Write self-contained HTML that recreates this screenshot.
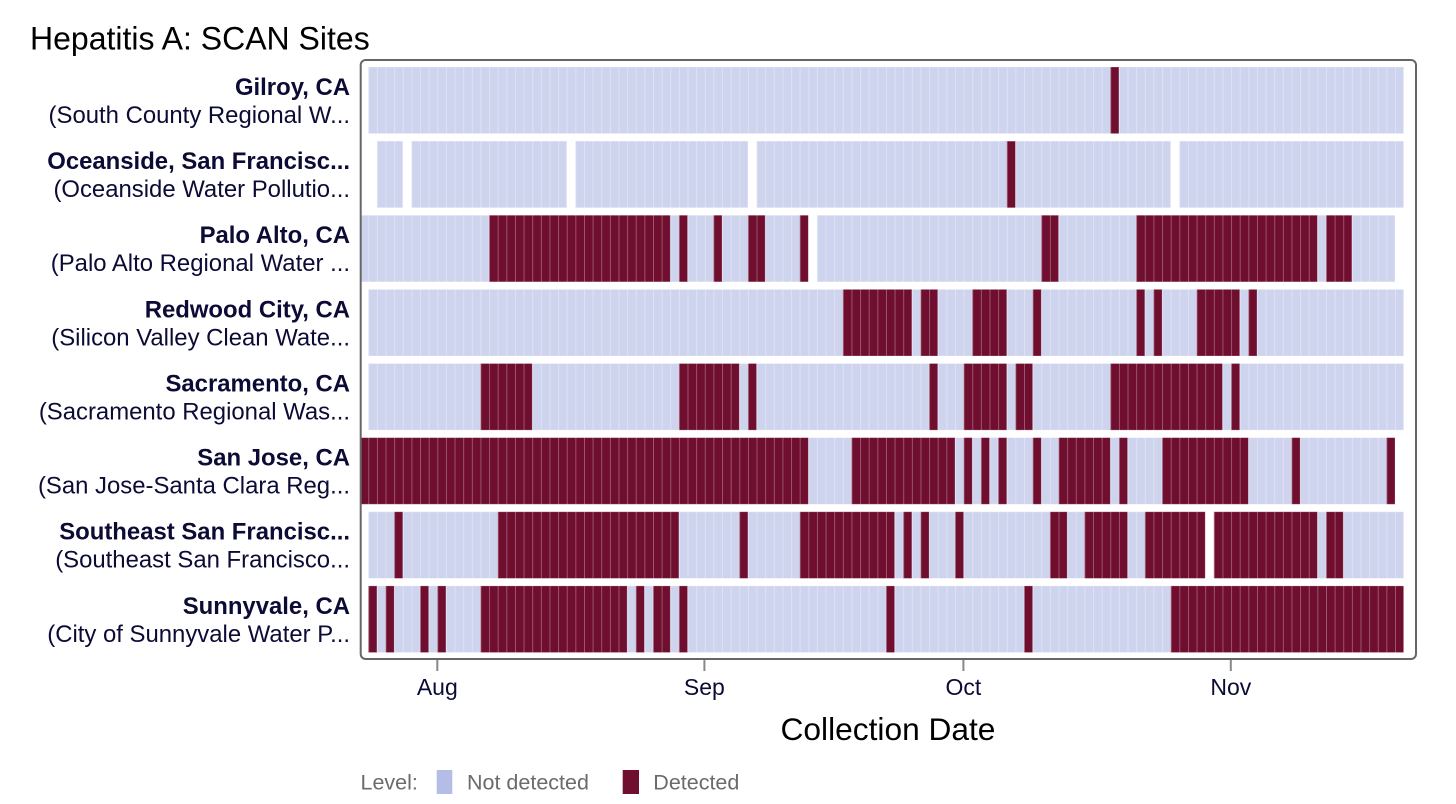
<!DOCTYPE html>
<html>
<head>
<meta charset="utf-8">
<style>
  html, body { margin: 0; padding: 0; background: #ffffff; }
  body { width: 1456px; height: 804px; overflow: hidden; }
  svg { display: block; }
  text { font-family: "Liberation Sans", Arial, Helvetica, sans-serif; }
</style>
</head>
<body>
<svg width="1456" height="804" viewBox="0 0 1456 804" xmlns="http://www.w3.org/2000/svg">
  <defs>
    <pattern id="sep" patternUnits="userSpaceOnUse" x="368.3" y="0" width="8.628" height="20">
      <rect x="0" y="0" width="0.9" height="20" fill="#ffffff" fill-opacity="0.32"/>
    </pattern>
  </defs>

  <!-- Title -->
  <text x="30" y="49.5" font-size="32" fill="#000000">Hepatitis A: SCAN Sites</text>

  <!-- Row labels -->
  <g font-size="23.9" fill="#0b0b35" text-anchor="end">
    <text x="350" y="95" font-weight="bold">Gilroy, CA</text>
    <text x="350" y="123">(South County Regional W...</text>
    <text x="350" y="169.1" font-weight="bold">Oceanside, San Francisc...</text>
    <text x="350" y="197.1">(Oceanside Water Pollutio...</text>
    <text x="350" y="243.2" font-weight="bold">Palo Alto, CA</text>
    <text x="350" y="271.2">(Palo Alto Regional Water ...</text>
    <text x="350" y="317.3" font-weight="bold">Redwood City, CA</text>
    <text x="350" y="345.3">(Silicon Valley Clean Wate...</text>
    <text x="350" y="391.4" font-weight="bold">Sacramento, CA</text>
    <text x="350" y="419.4">(Sacramento Regional Was...</text>
    <text x="350" y="465.6" font-weight="bold">San Jose, CA</text>
    <text x="350" y="493.6">(San Jose-Santa Clara Reg...</text>
    <text x="350" y="539.7" font-weight="bold">Southeast San Francisc...</text>
    <text x="350" y="567.7">(Southeast San Francisco...</text>
    <text x="350" y="613.8" font-weight="bold">Sunnyvale, CA</text>
    <text x="350" y="641.8">(City of Sunnyvale Water P...</text>
  </g>

  <!-- Cells: light backgrounds -->
  <g fill="#cfd4ee" stroke="#ffffff" stroke-opacity="0.3" stroke-width="0.8">
    <rect x="368.3" y="67" width="1035.36" height="66.6"/>
    <rect x="376.93" y="141.13" width="25.88" height="66.6"/>
    <rect x="411.44" y="141.13" width="155.3" height="66.6"/>
    <rect x="575.37" y="141.13" width="172.56" height="66.6"/>
    <rect x="756.56" y="141.13" width="414.14" height="66.6"/>
    <rect x="1179.33" y="141.13" width="224.33" height="66.6"/>
    <rect x="361" y="215.26" width="447.33" height="66.6"/>
    <rect x="816.96" y="215.26" width="578.07" height="66.6"/>
    <rect x="368.3" y="289.39" width="1035.36" height="66.6"/>
    <rect x="368.3" y="363.52" width="1035.36" height="66.6"/>
    <rect x="361" y="437.65" width="1034.03" height="66.6"/>
    <rect x="368.3" y="511.78" width="836.92" height="66.6"/>
    <rect x="1213.84" y="511.78" width="189.82" height="66.6"/>
    <rect x="368.3" y="585.91" width="1035.36" height="66.6"/>
  </g>

  <!-- Cells: detected -->
  <g fill="#6f0e2f" stroke="#ffffff" stroke-opacity="0.3" stroke-width="0.8">
    <rect x="1110.31" y="67" width="8.63" height="66.6"/>
    <rect x="1006.77" y="141.13" width="8.63" height="66.6"/>
    <rect x="489.09" y="215.26" width="181.19" height="66.6"/>
    <rect x="678.91" y="215.26" width="8.63" height="66.6"/>
    <rect x="713.42" y="215.26" width="8.63" height="66.6"/>
    <rect x="747.93" y="215.26" width="17.26" height="66.6"/>
    <rect x="799.70" y="215.26" width="8.63" height="66.6"/>
    <rect x="1041.28" y="215.26" width="17.26" height="66.6"/>
    <rect x="1136.19" y="215.26" width="181.19" height="66.6"/>
    <rect x="1326.01" y="215.26" width="25.88" height="66.6"/>
    <rect x="842.84" y="289.39" width="69.02" height="66.6"/>
    <rect x="920.49" y="289.39" width="17.26" height="66.6"/>
    <rect x="972.26" y="289.39" width="34.51" height="66.6"/>
    <rect x="1032.66" y="289.39" width="8.63" height="66.6"/>
    <rect x="1136.19" y="289.39" width="8.63" height="66.6"/>
    <rect x="1153.45" y="289.39" width="8.63" height="66.6"/>
    <rect x="1196.59" y="289.39" width="43.14" height="66.6"/>
    <rect x="1248.36" y="289.39" width="8.63" height="66.6"/>
    <rect x="480.46" y="363.52" width="51.77" height="66.6"/>
    <rect x="678.91" y="363.52" width="60.39" height="66.6"/>
    <rect x="747.93" y="363.52" width="8.63" height="66.6"/>
    <rect x="929.12" y="363.52" width="8.63" height="66.6"/>
    <rect x="963.63" y="363.52" width="43.14" height="66.6"/>
    <rect x="1015.40" y="363.52" width="17.26" height="66.6"/>
    <rect x="1110.31" y="363.52" width="112.16" height="66.6"/>
    <rect x="1231.10" y="363.52" width="8.63" height="66.6"/>
    <rect x="361" y="437.65" width="447.33" height="66.6"/>
    <rect x="851.47" y="437.65" width="103.53" height="66.6"/>
    <rect x="963.63" y="437.65" width="8.63" height="66.6"/>
    <rect x="980.89" y="437.65" width="8.63" height="66.6"/>
    <rect x="998.14" y="437.65" width="8.63" height="66.6"/>
    <rect x="1032.66" y="437.65" width="8.63" height="66.6"/>
    <rect x="1058.54" y="437.65" width="51.77" height="66.6"/>
    <rect x="1118.94" y="437.65" width="8.63" height="66.6"/>
    <rect x="1162.08" y="437.65" width="86.28" height="66.6"/>
    <rect x="1291.50" y="437.65" width="8.63" height="66.6"/>
    <rect x="1386.40" y="437.65" width="8.63" height="66.6"/>
    <rect x="394.18" y="511.78" width="8.63" height="66.6"/>
    <rect x="497.72" y="511.78" width="181.19" height="66.6"/>
    <rect x="739.30" y="511.78" width="8.63" height="66.6"/>
    <rect x="799.70" y="511.78" width="94.91" height="66.6"/>
    <rect x="903.24" y="511.78" width="8.63" height="66.6"/>
    <rect x="920.49" y="511.78" width="8.63" height="66.6"/>
    <rect x="955.00" y="511.78" width="8.63" height="66.6"/>
    <rect x="1049.91" y="511.78" width="17.26" height="66.6"/>
    <rect x="1084.42" y="511.78" width="43.14" height="66.6"/>
    <rect x="1144.82" y="511.78" width="60.40" height="66.6"/>
    <rect x="1213.84" y="511.78" width="103.54" height="66.6"/>
    <rect x="1326.01" y="511.78" width="17.25" height="66.6"/>
    <rect x="368.3" y="585.91" width="8.63" height="66.6"/>
    <rect x="385.56" y="585.91" width="8.63" height="66.6"/>
    <rect x="420.07" y="585.91" width="8.63" height="66.6"/>
    <rect x="437.32" y="585.91" width="8.63" height="66.6"/>
    <rect x="480.46" y="585.91" width="146.68" height="66.6"/>
    <rect x="635.77" y="585.91" width="8.63" height="66.6"/>
    <rect x="653.02" y="585.91" width="17.26" height="66.6"/>
    <rect x="678.91" y="585.91" width="8.63" height="66.6"/>
    <rect x="885.98" y="585.91" width="8.63" height="66.6"/>
    <rect x="1024.03" y="585.91" width="8.63" height="66.6"/>
    <rect x="1170.70" y="585.91" width="232.96" height="66.6"/>
  </g>

  <!-- Cell separators -->
  <rect x="361" y="66" width="1043" height="588" fill="url(#sep)"/>

  <!-- Plot border -->
  <rect x="360.7" y="60" width="1055.3" height="599" rx="5" ry="5" fill="none" stroke="#666666" stroke-width="2"/>

  <!-- X ticks -->
  <g stroke="#888888" stroke-width="2">
    <line x1="437.3" y1="660" x2="437.3" y2="671"/>
    <line x1="704.4" y1="660" x2="704.4" y2="671"/>
    <line x1="963.4" y1="660" x2="963.4" y2="671"/>
    <line x1="1230.8" y1="660" x2="1230.8" y2="671"/>
  </g>
  <g font-size="23" fill="#0b0b35" text-anchor="middle">
    <text x="437.3" y="695">Aug</text>
    <text x="704.4" y="695">Sep</text>
    <text x="963.4" y="695">Oct</text>
    <text x="1230.8" y="695">Nov</text>
  </g>

  <!-- X axis title -->
  <text x="888" y="740" font-size="31.7" fill="#000000" text-anchor="middle">Collection Date</text>

  <!-- Legend -->
  <text x="360.5" y="789.5" font-size="21.5" fill="#6b6b6b">Level:</text>
  <rect x="436.7" y="770" width="15.6" height="24" fill="#b4bde6"/>
  <text x="467" y="789.5" font-size="21.5" fill="#6b6b6b">Not detected</text>
  <rect x="622.7" y="770" width="16.3" height="24" fill="#6f0e2f"/>
  <text x="653.3" y="789.5" font-size="21.5" fill="#6b6b6b">Detected</text>
</svg>
</body>
</html>
